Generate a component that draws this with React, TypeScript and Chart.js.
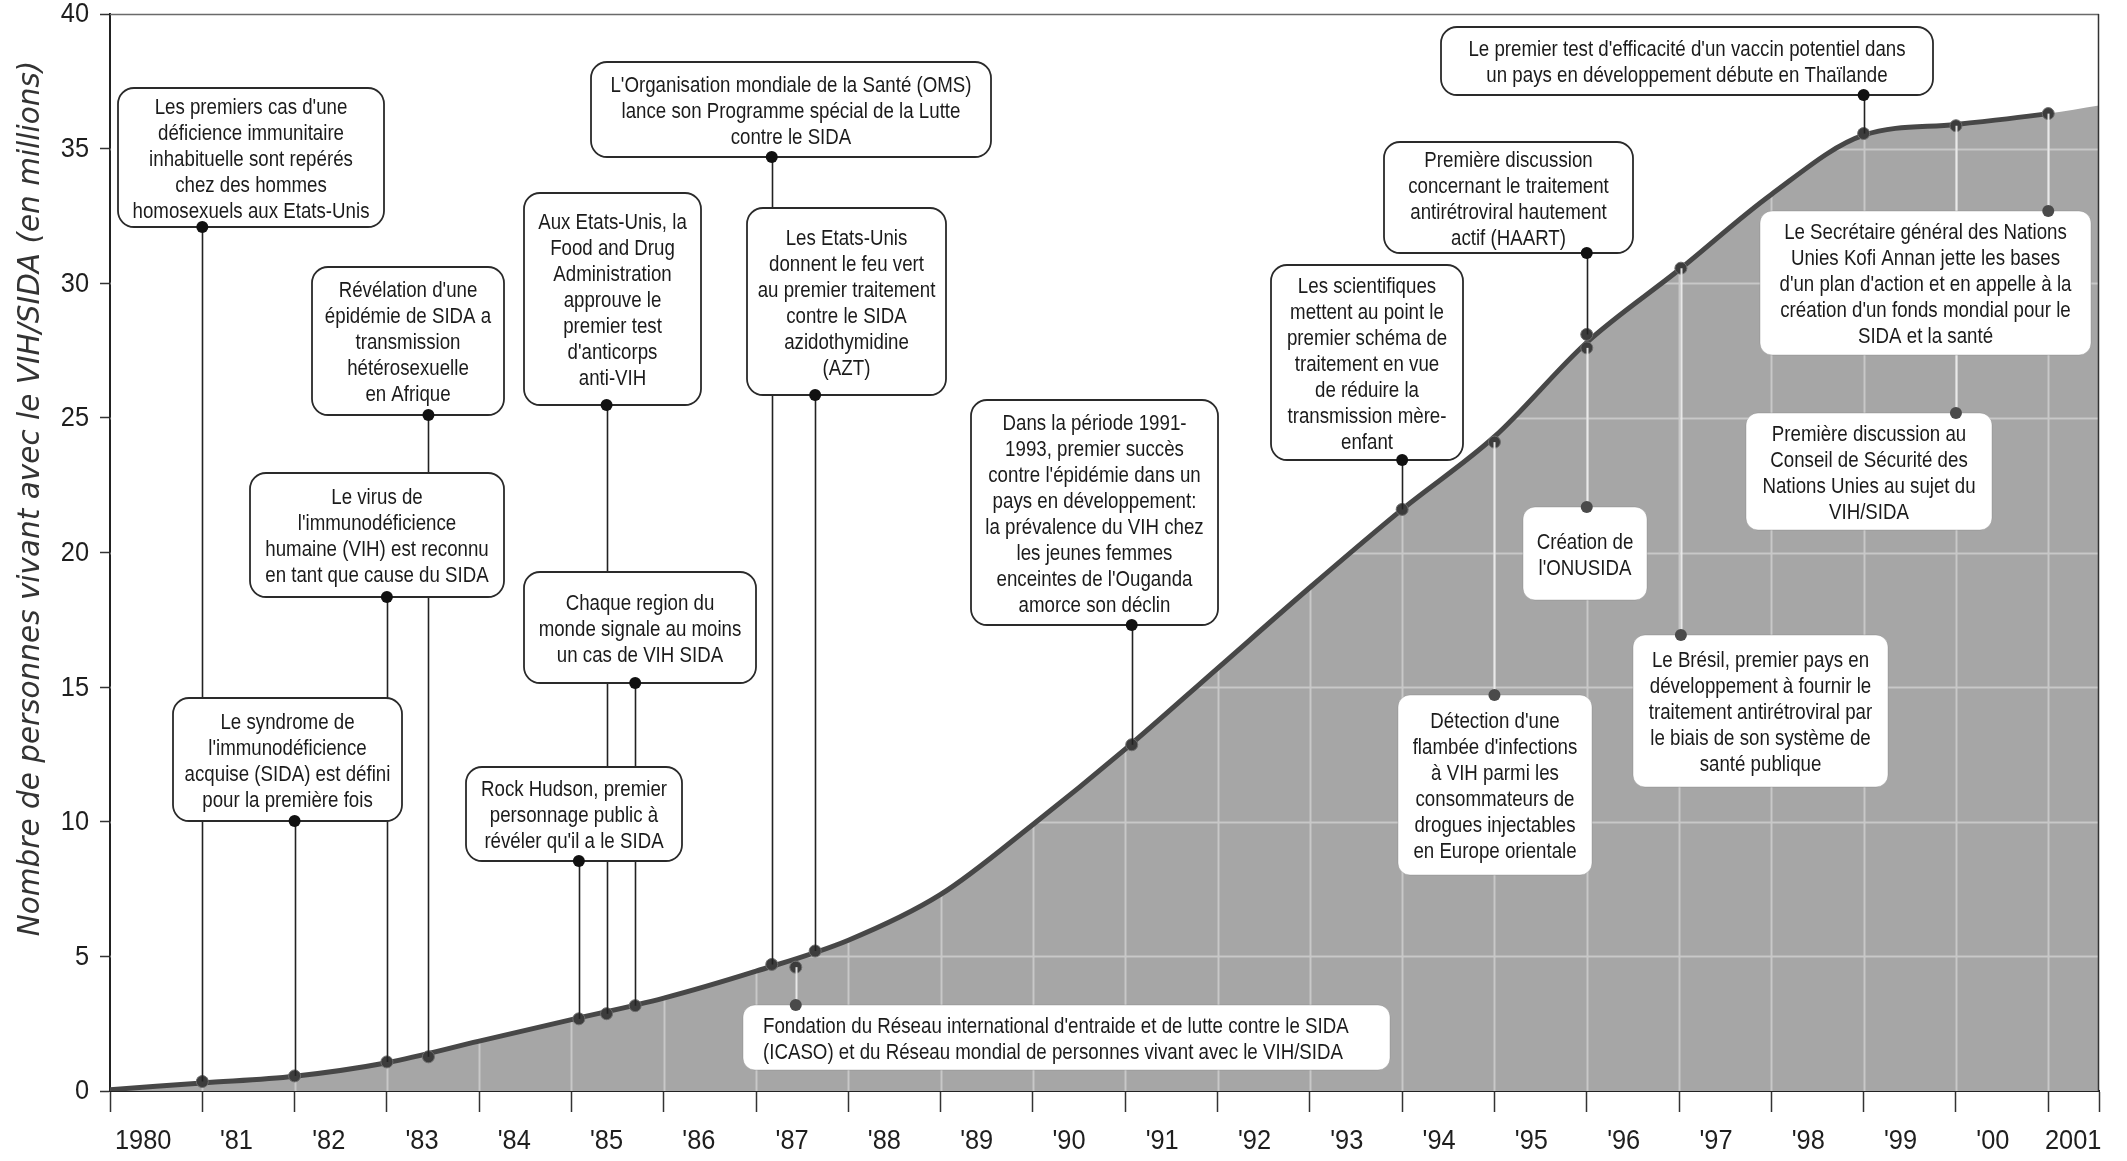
import React, { useEffect, useRef } from 'react';
import { Chart, registerables } from 'chart.js';

Chart.register(...registerables);

// ---------- data ----------
const years = [1980, 1981, 1982, 1983, 1984, 1985, 1986, 1987, 1988, 1989, 1990,
  1991, 1992, 1993, 1994, 1995, 1996, 1997, 1998, 1999, 2000, 2001];
const millions = [0.05, 0.3, 0.55, 1.05, 1.85, 2.65, 3.45, 4.45, 5.6, 7.3, 9.9,
  12.7, 15.7, 18.7, 21.6, 24.3, 27.8, 30.5, 33.3, 35.5, 35.9, 36.3];
const yearMax = 2001.55;
const edgeMillions = 36.6;

const yearLabels = ['1980', "'81", "'82", "'83", "'84", "'85", "'86", "'87", "'88", "'89", "'90",
  "'91", "'92", "'93", "'94", "'95", "'96", "'97", "'98", "'99", "'00", '2001'];
const yearLabelAt = [1980.36, 1981.37, 1982.37, 1983.38, 1984.38, 1985.38, 1986.38, 1987.39, 1988.39, 1989.39, 1990.39,
  1991.4, 1992.4, 1993.4, 1994.4, 1995.4, 1996.4, 1997.4, 1998.4, 1999.4, 2000.4, 2001.27];

const valueTicks = [0, 5, 10, 15, 20, 25, 30, 35, 40];
const yTitle = 'Nombre de personnes vivant avec le VIH/SIDA (en millions)';

const eventYears = [1981.0, 1982.0, 1983.45, 1983.0, 1985.38, 1987.17, 1985.69, 1987.64, 1985.08, 1987.43,
  1991.07, 1994.0, 1996.0, 1995.0, 1996.0, 1999.0, 2001.0, 2000.0, 1997.02];
const eventMillions = [0.35, 0.56, 1.27, 1.08, 2.87, 4.7, 3.17, 5.2, 2.68, 4.6,
  12.86, 21.6, 28.1, 24.1, 27.6, 35.56, 36.3, 35.85, 30.56];
const eventTexts: string[][] = [
  ["Les premiers cas d'une", 'déficience immunitaire', 'inhabituelle sont repérés', 'chez des hommes', 'homosexuels aux Etats-Unis'],
  ['Le syndrome de', "l'immunodéficience", 'acquise (SIDA) est défini', 'pour la première fois'],
  ["Révélation d'une", 'épidémie de SIDA a', 'transmission', 'hétérosexuelle', 'en Afrique'],
  ['Le virus de', "l'immunodéficience", 'humaine (VIH) est reconnu', 'en tant que cause du SIDA'],
  ['Aux Etats-Unis, la', 'Food and Drug', 'Administration', 'approuve le', 'premier test', "d'anticorps", 'anti-VIH'],
  ["L'Organisation mondiale de la Santé (OMS)", 'lance son Programme spécial de la Lutte', 'contre le SIDA'],
  ['Chaque region du', 'monde signale au moins', 'un cas de VIH SIDA'],
  ['Les Etats-Unis', 'donnent le feu vert', 'au premier traitement', 'contre le SIDA', 'azidothymidine', '(AZT)'],
  ['Rock Hudson, premier', 'personnage public à', "révéler qu'il a le SIDA"],
  ["Fondation du Réseau international d'entraide et de lutte contre le SIDA", '(ICASO) et du Réseau mondial de personnes vivant avec le VIH/SIDA'],
  ['Dans la période 1991-', '1993, premier succès', "contre l'épidémie dans un", 'pays en développement:', 'la prévalence du VIH chez', 'les jeunes femmes', "enceintes de l'Ouganda", 'amorce son déclin'],
  ['Les scientifiques', 'mettent au point le', 'premier schéma de', 'traitement en vue', 'de réduire la', 'transmission mère-', 'enfant'],
  ['Première discussion', 'concernant le traitement', 'antirétroviral hautement', 'actif (HAART)'],
  ["Détection d'une", "flambée d'infections", 'à VIH parmi les', 'consommateurs de', 'drogues injectables', 'en Europe orientale'],
  ['Création de', "l'ONUSIDA"],
  ["Le premier test d'efficacité d'un vaccin potentiel dans", 'un pays en développement débute en Thaïlande'],
  ['Le Secrétaire général des Nations', 'Unies Kofi Annan jette les bases', "d'un plan d'action et en appelle à la", "création d'un fonds mondial pour le", 'SIDA et la santé'],
  ['Première discussion au', 'Conseil de Sécurité des', 'Nations Unies au sujet du', 'VIH/SIDA'],
  ['Le Brésil, premier pays en', 'développement à fournir le', 'traitement antirétroviral par', 'le biais de son système de', 'santé publique'],
];

// ---------- annotation layout (pixels) ----------
type Note = { box: [number, number, number, number]; side: 'top' | 'bottom'; inset?: boolean; left?: boolean };
const notes: Note[] = [
  { box: [118, 88, 384, 227], side: 'bottom' },
  { box: [173, 698, 402, 821], side: 'bottom' },
  { box: [312, 267, 504, 415], side: 'bottom' },
  { box: [250, 473, 504, 597], side: 'bottom' },
  { box: [524, 193, 701, 405], side: 'bottom' },
  { box: [591, 62, 991, 157], side: 'bottom' },
  { box: [524, 572, 756, 683], side: 'bottom' },
  { box: [747, 208, 946, 395], side: 'bottom' },
  { box: [466, 767, 682, 861], side: 'bottom' },
  { box: [743, 1005, 1390, 1070], side: 'top', inset: true, left: true },
  { box: [971, 400, 1218, 625], side: 'bottom' },
  { box: [1271, 265, 1463, 460], side: 'bottom' },
  { box: [1384, 142, 1633, 253], side: 'bottom' },
  { box: [1398, 695, 1592, 875], side: 'top', inset: true },
  { box: [1523, 507, 1647, 600], side: 'top', inset: true },
  { box: [1441, 27, 1933, 95], side: 'bottom' },
  { box: [1760, 211, 2091, 355], side: 'top', inset: true },
  { box: [1746, 413, 1992, 530], side: 'top', inset: true },
  { box: [1633, 635, 1888, 787], side: 'top', inset: true },
];

const SANS = "'Liberation Sans', Arial, sans-serif";
const BOX_SQUEEZE = 0.85;
const TICK_SQUEEZE = 0.94;

function narrowText(ctx: CanvasRenderingContext2D, text: string, x: number, y: number, sx: number) {
  ctx.save();
  ctx.translate(x, y);
  ctx.scale(sx, 1);
  ctx.fillText(text, 0, 0);
  ctx.restore();
}

function roundedRect(ctx: CanvasRenderingContext2D, x1: number, y1: number, x2: number, y2: number, r: number) {
  ctx.beginPath();
  ctx.moveTo(x1 + r, y1);
  ctx.lineTo(x2 - r, y1);
  ctx.arcTo(x2, y1, x2, y1 + r, r);
  ctx.lineTo(x2, y2 - r);
  ctx.arcTo(x2, y2, x2 - r, y2, r);
  ctx.lineTo(x1 + r, y2);
  ctx.arcTo(x1, y2, x1, y2 - r, r);
  ctx.lineTo(x1, y1 + r);
  ctx.arcTo(x1, y1, x1 + r, y1, r);
  ctx.closePath();
}

const notesPlugin = {
  id: 'notes',
  beforeDatasetDraw(chart: any, args: any) {
    if (args.index !== 1) return;
    const { ctx, chartArea: a, scales } = chart;
    const xs = scales.x;
    const ys = scales.y;
    ctx.save();
    ctx.strokeStyle = 'rgba(255,255,255,0.38)';
    ctx.lineWidth = 2;
    ctx.beginPath();
    xs.ticks.forEach((t: any) => {
      if (t.value <= xs.min || t.value >= xs.max) return;
      const px = Math.round(xs.getPixelForValue(t.value)) + 0.5;
      ctx.moveTo(px, a.top);
      ctx.lineTo(px, a.bottom);
    });
    ys.ticks.forEach((t: any) => {
      if (t.value <= ys.min || t.value >= ys.max) return;
      const py = Math.round(ys.getPixelForValue(t.value)) + 0.5;
      ctx.moveTo(a.left, py);
      ctx.lineTo(a.right, py);
    });
    ctx.stroke();
    ctx.restore();
  },
  afterDraw(chart: any) {
    const { ctx, chartArea: a, scales } = chart;
    const xs = scales.x;
    const ys = scales.y;
    ctx.save();
    // frame top & right
    ctx.strokeStyle = '#6a6a6a';
    ctx.lineWidth = 1.5;
    ctx.beginPath();
    ctx.moveTo(a.left, a.top + 0.5);
    ctx.lineTo(a.right, a.top + 0.5);
    ctx.stroke();
    ctx.strokeStyle = '#333';
    ctx.beginPath();
    ctx.moveTo(a.right - 0.5, a.top);
    ctx.lineTo(a.right - 0.5, a.bottom);
    ctx.stroke();

    // axis tick labels
    ctx.fillStyle = '#1e1e1e';
    ctx.font = `27px ${SANS}`;
    ctx.textBaseline = 'middle';
    ctx.textAlign = 'center';
    yearLabels.forEach((lab, i) => {
      narrowText(ctx, lab, xs.getPixelForValue(yearLabelAt[i]), a.bottom + 51, TICK_SQUEEZE);
    });
    ctx.textAlign = 'right';
    valueTicks.forEach((v) => {
      narrowText(ctx, String(v), a.left - 21, ys.getPixelForValue(v) + 1, TICK_SQUEEZE);
    });
    // axis title
    ctx.save();
    ctx.translate(31, (a.top + a.bottom) / 2 - 54);
    ctx.rotate(-Math.PI / 2);
    ctx.font = "italic 29.5px 'DejaVu Sans', Verdana, sans-serif";
    ctx.fillStyle = '#333';
    ctx.textAlign = 'center';
    ctx.textBaseline = 'middle';
    ctx.fillText(yTitle, 0, 0);
    ctx.restore();

    // connectors
    notes.forEach((n, i) => {
      const px = Math.round(xs.getPixelForValue(eventYears[i])) + 0.5;
      const pc = ys.getPixelForValue(eventMillions[i]);
      const edge = n.side === 'bottom' ? n.box[3] : n.box[1];
      ctx.strokeStyle = n.inset ? 'rgba(235,235,235,0.95)' : '#222';
      ctx.lineWidth = n.inset ? 2 : 1.6;
      ctx.beginPath();
      ctx.moveTo(px, edge);
      ctx.lineTo(px, pc);
      ctx.stroke();
    });
    // boxes
    notes.forEach((n, i) => {
      const [x1, y1, x2, y2] = n.box;
      roundedRect(ctx, x1, y1, x2, y2, n.inset ? 12 : 16);
      ctx.fillStyle = '#ffffff';
      ctx.fill();
      ctx.lineWidth = n.inset ? 1 : 1.8;
      ctx.strokeStyle = n.inset ? 'rgba(120,120,120,0.35)' : '#2a2a2a';
      ctx.stroke();
      const lines = eventTexts[i];
      const lh = 26;
      ctx.font = `22px ${SANS}`;
      ctx.fillStyle = '#1b1b1b';
      ctx.textAlign = n.left ? 'left' : 'center';
      ctx.textBaseline = 'middle';
      const tx = n.left ? x1 + 20 : (x1 + x2) / 2;
      const cy = (y1 + y2) / 2 + 2;
      const maxW = x2 - x1 - (n.left ? 26 : 14);
      lines.forEach((ln, k) => {
        const ty = cy + (k - (lines.length - 1) / 2) * lh;
        const w = ctx.measureText(ln).width * BOX_SQUEEZE;
        const s = w > maxW ? (BOX_SQUEEZE * maxW) / w : BOX_SQUEEZE;
        narrowText(ctx, ln, tx, ty, s);
      });
    });
    // box-edge dots
    notes.forEach((n, i) => {
      const px = xs.getPixelForValue(eventYears[i]);
      const edge = n.side === 'bottom' ? n.box[3] : n.box[1];
      ctx.beginPath();
      ctx.arc(px, edge, 6, 0, Math.PI * 2);
      ctx.fillStyle = n.inset ? '#4a4a4a' : '#111';
      ctx.fill();
    });
    ctx.restore();
  },
};

export default function App() {
  const ref = useRef<HTMLCanvasElement | null>(null);
  useEffect(() => {
    document.body.style.margin = '0';
    const canvas = ref.current;
    if (!canvas) return;
    const curve = years.map((yr, i) => ({ x: yr, y: millions[i] })).concat([{ x: yearMax, y: edgeMillions }]);
    const lastIdx = curve.length - 1;
    const chart = new Chart(canvas, {
      type: 'line',
      data: {
        datasets: [
          {
            data: curve,
            fill: 'origin',
            backgroundColor: '#a6a6a6',
            borderWidth: 0,
            pointRadius: 0,
            cubicInterpolationMode: 'monotone',
            order: 3,
          } as any,
          {
            data: curve,
            fill: false,
            borderColor: '#474747',
            borderWidth: 5,
            pointRadius: 0,
            cubicInterpolationMode: 'monotone',
            segment: {
              borderColor: (c: any) => (c.p1DataIndex === lastIdx ? 'rgba(0,0,0,0)' : '#474747'),
            },
            order: 2,
          } as any,
          {
            type: 'scatter',
            data: eventYears.map((yr, i) => ({ x: yr, y: eventMillions[i] })),
            pointRadius: 6,
            backgroundColor: '#3c3c3c',
            borderColor: '#6e6e6e',
            borderWidth: 1,
            order: 1,
          } as any,
        ],
      },
      options: {
        animation: false,
        responsive: false,
        devicePixelRatio: 1,
        events: [],
        layout: { padding: { left: 0, top: 14, right: 28, bottom: 0 } },
        plugins: { legend: { display: false }, tooltip: { enabled: false }, title: { display: false } },
        scales: {
          x: {
            type: 'linear',
            position: 'bottom',
            min: 1980,
            max: yearMax,
            afterBuildTicks: (s: any) => {
              s.ticks = years.map((v) => ({ value: v })).concat([{ value: yearMax }]);
            },
            afterFit: (s: any) => { s.height = 70; },
            grid: { color: 'rgba(0,0,0,0)', drawOnChartArea: false, tickColor: '#333', tickLength: 21, tickWidth: 1.5 },
            border: { color: '#222', width: 2 },
            ticks: { display: false },
          },
          y: {
            type: 'linear',
            min: 0,
            max: 40,
            afterBuildTicks: (s: any) => {
              s.ticks = valueTicks.map((v) => ({ value: v }));
            },
            afterFit: (s: any) => { s.width = 110; },
            grid: { color: 'rgba(0,0,0,0)', drawOnChartArea: false, tickColor: '#333', tickLength: 10, tickWidth: 1.5 },
            border: { color: '#222', width: 2 },
            ticks: { display: false },
          },
        },
      } as any,
      plugins: [notesPlugin],
    });
    return () => chart.destroy();
  }, []);
  return (
    <div style={{ width: 2127, height: 1161 }}>
      <canvas ref={ref} width={2127} height={1161} style={{ display: 'block' }} />
    </div>
  );
}
